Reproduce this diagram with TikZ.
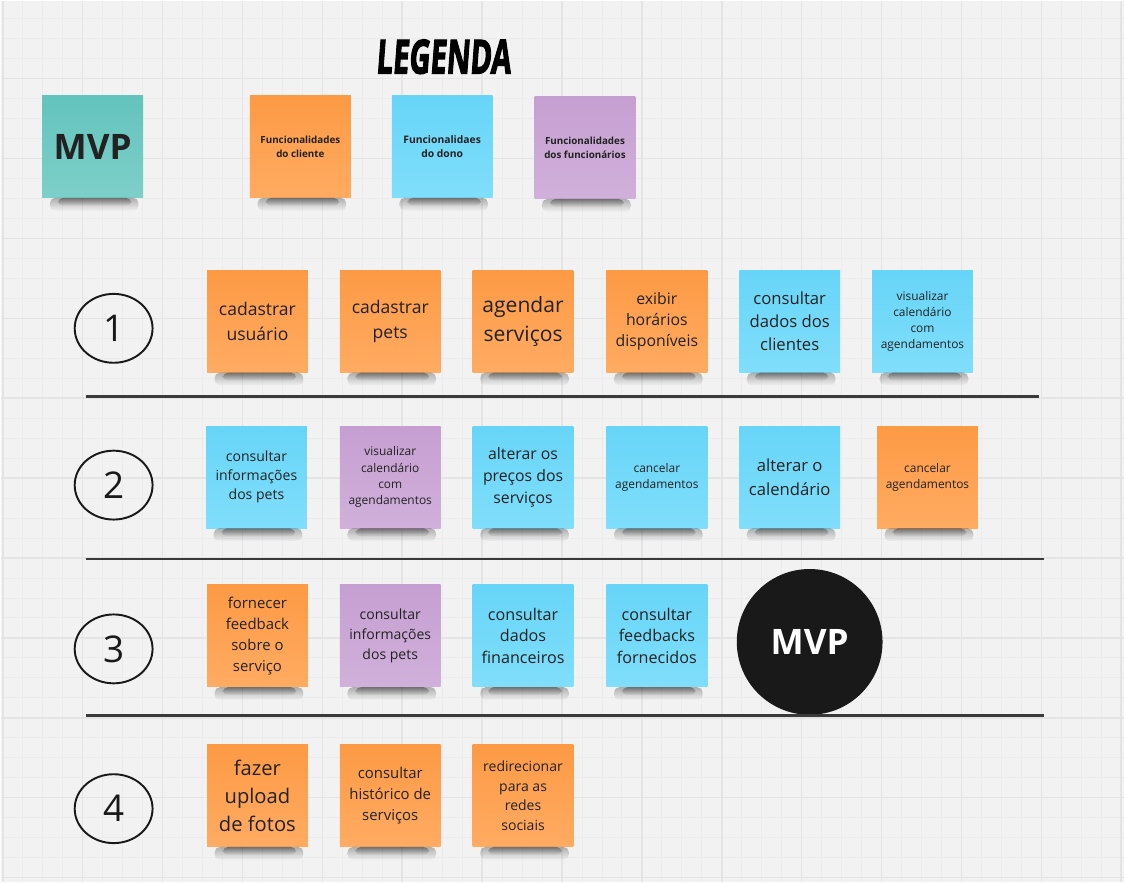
\documentclass[tikz,border=0pt]{standalone}
\usepackage{fontspec}
\setmainfont{Open Sans}
\newfontfamily\legendafonte{Open Sans}[BoldFeatures={FakeBold=3,FakeSlant=0.12}]
\usetikzlibrary{positioning}
\usetikzlibrary{shapes.geometric}
\usetikzlibrary{fadings}

\definecolor{fundo}{HTML}{F2F2F2}
\definecolor{gradefina}{HTML}{ECECEC}
\definecolor{gradegrossa}{HTML}{E4E4E4}
\definecolor{textonota}{HTML}{222222}
\definecolor{laranjaA}{HTML}{FD9A45}
\definecolor{laranjaB}{HTML}{FFAB62}
\definecolor{azulA}{HTML}{67D5F8}
\definecolor{azulB}{HTML}{80DEFB}
\definecolor{roxoA}{HTML}{C59FD1}
\definecolor{roxoB}{HTML}{D1B0DB}
\definecolor{verdeA}{HTML}{63C3BD}
\definecolor{verdeB}{HTML}{7DD0C9}
\definecolor{divisao}{HTML}{3A3A3A}

\newcommand{\fs}[2]{\fontsize{#1}{#2}\selectfont}

\tikzset{
    nota/.style={rectangle, minimum width=2.02cm, minimum height=2.04cm, inner sep=1pt,
                 align=center, text=textonota},
    laranja/.style={nota, top color=laranjaA, bottom color=laranjaB},
    azul/.style={nota, top color=azulA, bottom color=azulB},
    roxo/.style={nota, top color=roxoA, bottom color=roxoB},
    verde/.style={nota, top color=verdeA, bottom color=verdeB},
    sombra/.style={fill=black, fill opacity=#1, path fading=south, rounded corners=3pt},
    etapa/.style={ellipse, draw=black!90, line width=1.1pt, minimum width=1.56cm,
                  minimum height=1.38cm, inner sep=0pt, font=\fs{21}{24}, text=black!90},
    divisoria/.style={draw=divisao, line width=1.6pt}
}

\begin{document}
\begin{tikzpicture}[x=0.02cm, y=-0.02cm]

            % fundo quadriculado
            \fill[fundo] (0,0) rectangle (1125,882);
            \foreach \gx in {2,22,...,1122} \draw[gradefina, line width=0.5pt] (\gx,0) -- (\gx,882);
            \foreach \gy in {18,38,...,878} \draw[gradefina, line width=0.5pt] (0,\gy) -- (1125,\gy);
            \foreach \gx in {2,82,...,1122} \draw[gradegrossa, line width=0.9pt] (\gx,0) -- (\gx,882);
            \foreach \gy in {78,158,...,878} \draw[gradegrossa, line width=0.9pt] (0,\gy) -- (1125,\gy);

            % legenda
            \node (legenda) at (443,56) {\resizebox{2.7cm}{0.68cm}{\legendafonte\bfseries LEGENDA}};

            \path   (92,146)  node (mvp)  [verde, font=\fs{20}{24}\bfseries] {MVP}
                    (300,146) node (lcli) [laranja, font=\fs{5.6}{8}\bfseries] {Funcionalidades\\do cliente}
                    (442,146) node (ldon) [azul, font=\fs{5.9}{8.2}\bfseries] {Funcionalidaes\\do dono}
                    (585,147) node (lfun) [roxo, font=\fs{5.6}{8}\bfseries] {Funcionalidades\\dos funcionários};

            % etapas
            \path   (113,328) node (e1) [etapa] {1}
                    (113,485) node (e2) [etapa] {2}
                    (113,649) node (e3) [etapa] {3}
                    (113,809) node (e4) [etapa] {4};

            % etapa 1
            \path   (257,321) node (a) [laranja, font=\fs{10}{14}] {cadastrar\\usuário}
                    (390,321) node (b) [laranja, font=\fs{10}{14}] {cadastrar\\pets}
                    (523,321) node (c) [laranja, font=\fs{12}{16.5}] {agendar\\serviços}
                    (657,321) node (d) [laranja, font=\fs{9}{12}] {exibir\\horários\\disponíveis}
                    (790,321) node (e) [azul, font=\fs{9.5}{13.3}] {consultar\\dados dos\\clientes}
                    (923,321) node (f) [azul, font=\fs{6.8}{9}] {visualizar\\calendário\\com\\agendamentos};

            \draw[divisoria] (85,396) -- (1040,396);

            % etapa 2
            \path   (256,477) node (g) [azul, font=\fs{8}{10.8}] {consultar\\informações\\dos pets}
                    (390,477) node (h) [roxo, font=\fs{6.8}{9.3}] {visualizar\\calendário\\com\\agendamentos}
                    (523,477) node (i) [azul, font=\fs{9}{12.5}] {alterar os\\preços dos\\serviços}
                    (657,477) node (j) [azul, font=\fs{6.8}{9}] {cancelar\\agendamentos}
                    (790,477) node (k) [azul, font=\fs{9.5}{13.3}] {alterar o\\calendário}
                    (928,477) node (l) [laranja, font=\fs{6.8}{9}] {cancelar\\agendamentos};

            \draw[divisoria] (85,559) -- (1045,559);

            % etapa 3
            \path   (257,636) node (m) [laranja, font=\fs{8.5}{12}] {fornecer\\feedback\\sobre o\\serviço}
                    (390,636) node (n) [roxo, font=\fs{8}{11.3}] {consultar\\informações\\dos pets}
                    (523,636) node (o) [azul, font=\fs{9.2}{12.5}] {consultar\\dados\\financeiros}
                    (657,636) node (p) [azul, font=\fs{9.2}{12.5}] {consultar\\feedbacks\\fornecidos}
                    (810,642) node (mvpfim) [circle, fill=black!90, minimum size=2.92cm, inner sep=0pt,
                                             text=white, font=\fs{20}{24}\bfseries] {MVP};

            \draw[divisoria] (85,716) -- (1045,716);

            % etapa 4
            \path   (257,796) node (q) [laranja, font=\fs{11.5}{16}] {fazer\\upload\\de fotos}
                    (390,796) node (r) [laranja, font=\fs{8.5}{12}] {consultar\\histórico de\\serviços}
                    (523,796) node (s) [laranja, font=\fs{8}{11.3}] {redirecionar\\para as\\redes\\sociais};

            % sombras das notas
            \foreach \nota in {mvp,lcli,ldon,lfun,a,b,c,d,e,f,g,h,i,j,k,l,m,n,o,p,q,r,s} {
                \fill[sombra=0.28] ([xshift=0.16cm]\nota.south west) rectangle ([xshift=-0.1cm, yshift=-0.26cm]\nota.south east);
                \fill[sombra=0.35] ([xshift=0.32cm]\nota.south west) rectangle ([xshift=-0.24cm, yshift=-0.16cm]\nota.south east);
            }

\end{tikzpicture}
\end{document}
